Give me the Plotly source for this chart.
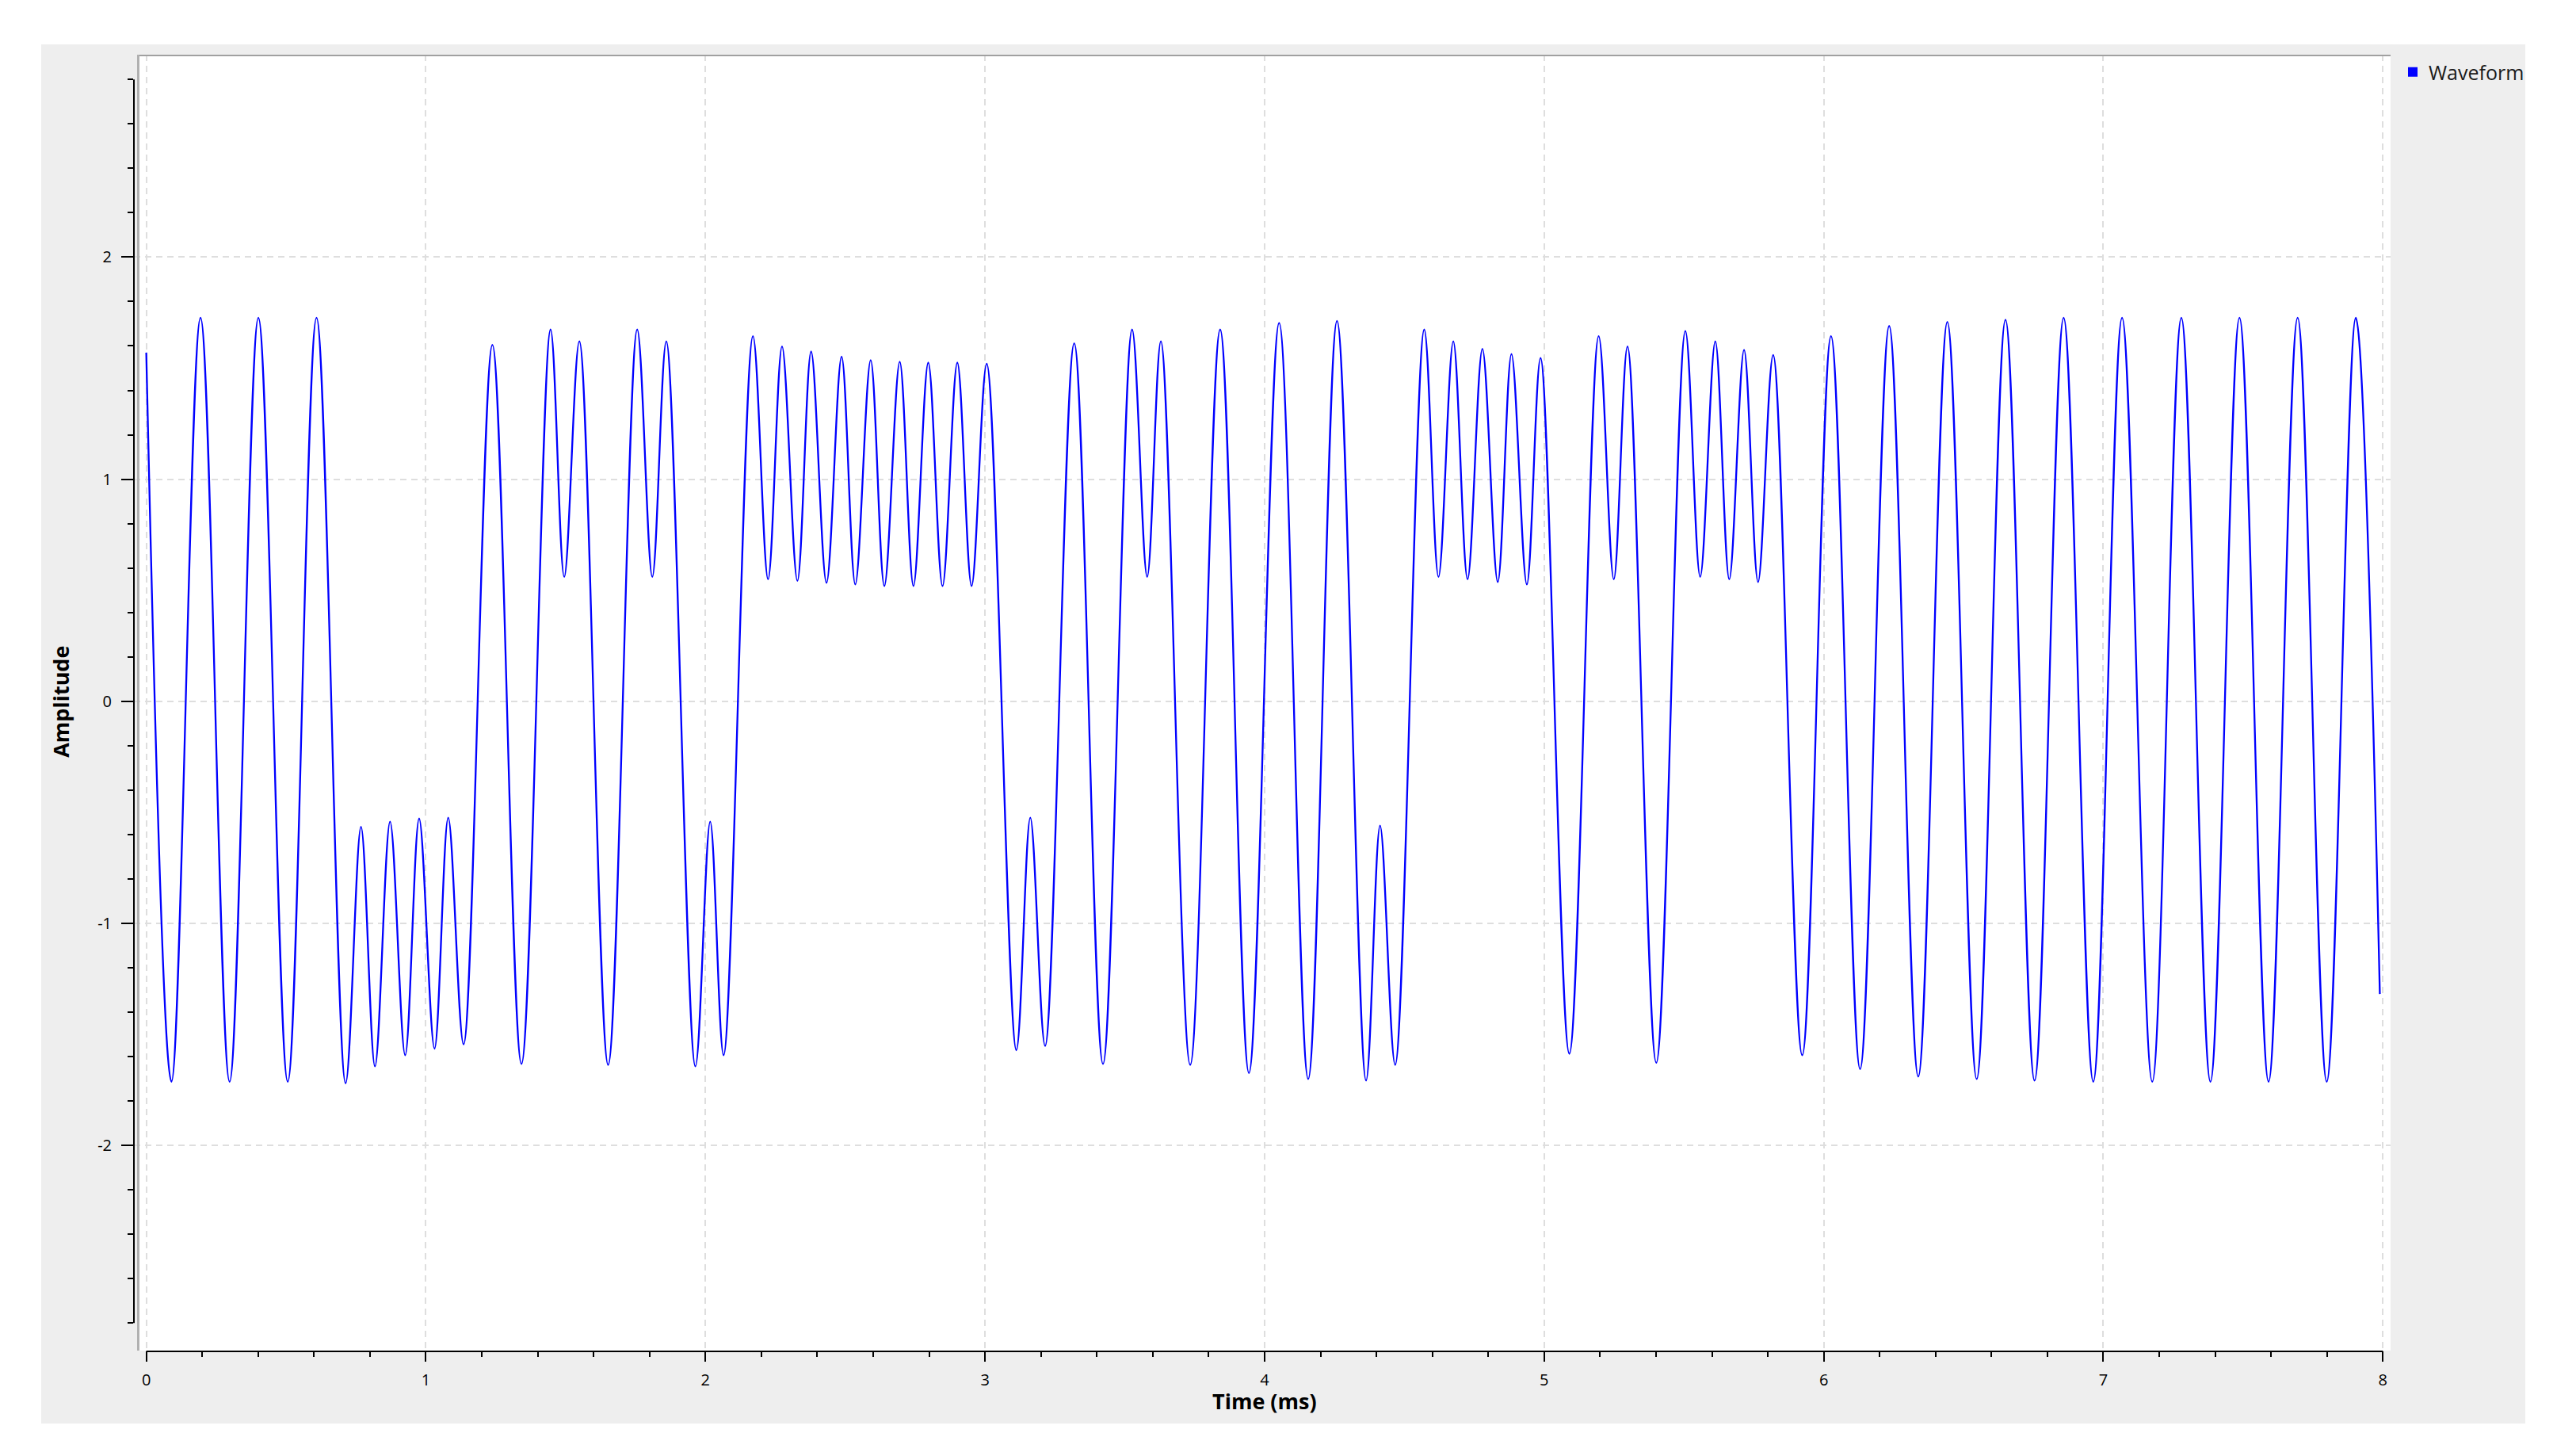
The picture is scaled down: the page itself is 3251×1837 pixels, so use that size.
import plotly.graph_objects as go

# ---- data: turning points of the waveform ----
time_ms = [
    0.000, 0.090, 0.194, 0.298, 0.401, 0.506, 0.609, 0.713, 0.768, 0.818,
    0.872, 0.926, 0.976, 1.031, 1.080, 1.135, 1.238, 1.342, 1.446, 1.495,
    1.549, 1.652, 1.756, 1.810, 1.860, 1.964, 2.017, 2.065, 2.170, 2.224,
    2.274, 2.329, 2.378, 2.433, 2.487, 2.536, 2.591, 2.640, 2.695, 2.744,
    2.797, 2.848, 2.901, 2.952, 3.006, 3.112, 3.162, 3.215, 3.319, 3.422,
    3.526, 3.580, 3.629, 3.734, 3.841, 3.944, 4.052, 4.156, 4.259, 4.363,
    4.413, 4.467, 4.571, 4.622, 4.675, 4.726, 4.779, 4.834, 4.883, 4.938,
    4.987, 5.090, 5.195, 5.249, 5.298, 5.401, 5.505, 5.558, 5.612, 5.662,
    5.715, 5.765, 5.819, 5.923, 6.026, 6.130, 6.234, 6.338, 6.442, 6.547,
    6.650, 6.754, 6.858, 6.964, 7.067, 7.175, 7.279, 7.383, 7.487, 7.591,
    7.695, 7.799, 7.903, 7.989,
]
amplitude = [
    1.570, -1.713, 1.727, -1.713, 1.727, -1.713, 1.727, -1.720, -0.565, -1.644,
    -0.542, -1.594, -0.528, -1.564, -0.524, -1.545, 1.605, -1.633, 1.674, 0.560,
    1.621, -1.637, 1.674, 0.560, 1.621, -1.644, -0.542, -1.594, 1.644, 0.549,
    1.598, 0.542, 1.575, 0.533, 1.552, 0.526, 1.536, 0.519, 1.529, 0.519,
    1.525, 0.519, 1.525, 0.519, 1.520, -1.571, -0.524, -1.552, 1.612, -1.633,
    1.674, 0.560, 1.621, -1.637, 1.674, -1.674, 1.704, -1.701, 1.713, -1.708,
    -0.560, -1.637, 1.674, 0.560, 1.621, 0.549, 1.587, 0.537, 1.564, 0.526,
    1.546, -1.587, 1.644, 0.549, 1.598, -1.628, 1.667, 0.560, 1.621, 0.549,
    1.582, 0.537, 1.559, -1.594, 1.644, -1.656, 1.690, -1.690, 1.708, -1.701,
    1.718, -1.708, 1.727, -1.713, 1.727, -1.713, 1.727, -1.713, 1.727, -1.713,
    1.727, -1.713, 1.727, -1.318,
]
series_name = "Waveform"
x_tick_values = [0, 1, 2, 3, 4, 5, 6, 7, 8]
x_tick_labels = ["0", "1", "2", "3", "4", "5", "6", "7", "8"]
y_tick_values = [-2, -1, 0, 1, 2]
y_tick_labels = ["-2", "-1", "0", "1", "2"]
x_title = "Time (ms)"
y_title = "Amplitude"

# ---- layout geometry (page pixels; the page body has an 8px margin) ----
OFF = 8
PAGE_W, PAGE_H = 3251, 1837
W, H = PAGE_W - 2 * OFF, PAGE_H - 2 * OFF
L, R, T, B = 169 - OFF, 3017 - OFF, 69 - OFF, 1704 - OFF


def px(xp):
    return (xp - OFF - L) / (R - L)


def py(yp):
    return (B - (yp - OFF)) / (B - T)


FONT = "Open Sans, Noto Sans, Liberation Sans, sans-serif"

fig = go.Figure()
fig.add_trace(go.Scatter(
    x=time_ms, y=amplitude, mode="lines", name=series_name,
    line=dict(color="#0000ff", width=2.3, shape="spline", smoothing=1.0),
    showlegend=False, hoverinfo="x+y",
))
fig.add_trace(go.Scatter(
    x=[None], y=[None], mode="markers", name=series_name,
    marker=dict(symbol="square", size=14, color="#0000ff"),
    showlegend=True,
))

shapes = [
    # grey window panel
    dict(type="rect", xref="paper", yref="paper", x0=px(52), x1=px(3187),
         y0=py(1796), y1=py(56), fillcolor="#eeeeee", line=dict(width=0), layer="below"),
    # white canvas
    dict(type="rect", xref="paper", yref="paper", x0=px(176), x1=px(3017),
         y0=py(1704), y1=py(69), fillcolor="#ffffff", line=dict(width=0), layer="below"),
    # canvas frame (top / left)
    dict(type="line", xref="paper", yref="paper", x0=px(173), x1=px(3017),
         y0=py(70), y1=py(70), line=dict(color="#a0a0a0", width=2)),
    dict(type="line", xref="paper", yref="paper", x0=px(174.5), x1=px(174.5),
         y0=py(1704), y1=py(69), line=dict(color="#b0b0b0", width=3)),
    # axis backbones
    dict(type="line", xref="paper", yref="y", x0=px(169), x1=px(169),
         y0=-2.8, y1=2.8, line=dict(color="#000000", width=2)),
    dict(type="line", xref="x", yref="paper", x0=0, x1=8,
         y0=py(1705), y1=py(1705), line=dict(color="#000000", width=2)),
]

annotations = [
    dict(text=f"<b>{x_title}</b>", xref="x", yref="paper", x=4, y=py(1767),
         showarrow=False, xanchor="center", yanchor="middle",
         font=dict(family=FONT, size=27, color="#000000")),
    dict(text=f"<b>{y_title}</b>", xref="paper", yref="y", x=px(77), y=0,
         showarrow=False, xanchor="center", yanchor="middle", textangle=-90,
         font=dict(family=FONT, size=27, color="#000000")),
]

x0_px, per_ms = 184.6 - OFF, 352.84
y0_px, per_unit = 884.8 - OFF, 280.2

fig.update_layout(
    width=W, height=H,
    margin=dict(l=L, r=W - R, t=T, b=H - B, pad=0),
    paper_bgcolor="#ffffff",
    plot_bgcolor="rgba(0,0,0,0)",
    font=dict(family=FONT, size=20, color="#000000"),
    shapes=shapes,
    annotations=annotations,
    showlegend=True,
    legend=dict(x=px(3025), y=py(68), xanchor="left", yanchor="top",
                bgcolor="rgba(0,0,0,0)", borderwidth=0,
                font=dict(family=FONT, size=25, color="#1a1a1a"),
                itemsizing="constant"),
    xaxis=dict(
        range=[(L - x0_px) / per_ms, (R - x0_px) / per_ms],
        tickmode="array", tickvals=x_tick_values, ticktext=x_tick_labels,
        ticks="outside", ticklen=13, tickwidth=2, tickcolor="#000000",
        minor=dict(ticks="outside", ticklen=7, tickwidth=1.5, tickcolor="#000000",
                   tickmode="linear", tick0=0, dtick=0.2, showgrid=False),
        showline=False, zeroline=False,
        showgrid=True, gridcolor="#dedede", gridwidth=1.5, griddash="8px,6px",
        tickfont=dict(family=FONT, size=20, color="#000000"),
        ticklabelstandoff=6,
    ),
    yaxis=dict(
        range=[(y0_px - B) / per_unit, (y0_px - T) / per_unit],
        tickmode="array", tickvals=y_tick_values, ticktext=y_tick_labels,
        ticks="outside", ticklen=15, tickwidth=2, tickcolor="#000000",
        minor=dict(ticks="outside", ticklen=7, tickwidth=1.5, tickcolor="#000000",
                   tickmode="linear", tick0=0, dtick=0.2, showgrid=False),
        showline=False, zeroline=False,
        showgrid=True, gridcolor="#dedede", gridwidth=1.5, griddash="8px,6px",
        tickfont=dict(family=FONT, size=20, color="#000000"),
        ticklabelstandoff=8,
    ),
)

fig.write_html("out.html")
